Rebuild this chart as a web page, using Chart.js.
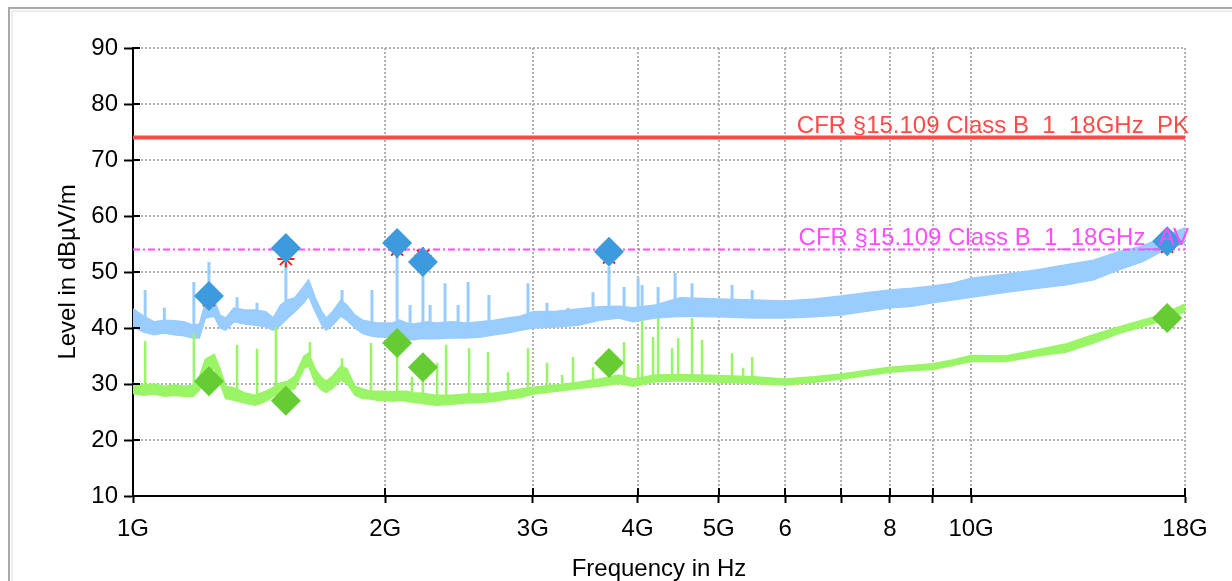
<!DOCTYPE html>
<html>
<head>
<meta charset="utf-8">
<title>Radiated emission 1-18 GHz</title>
<script src="https://cdn.jsdelivr.net/npm/chart.js@4/dist/chart.umd.min.js"></script>
<style>
  html, body { margin: 0; padding: 0; background: #fff; }
  #wrap { width: 1232px; height: 581px; }
</style>
</head>
<body>
<div id="wrap"><canvas id="emi-chart" width="1232" height="581"></canvas></div>
<script>
/* Radiated emission scan 1-18 GHz - peak / average traces with limits */

// Frequency samples (GHz) shared by the trace envelopes
const traceFreq = [1.00, 1.03, 1.06, 1.09, 1.12, 1.15, 1.18, 1.20, 1.22, 1.25,
    1.27, 1.29, 1.32, 1.36, 1.40, 1.44, 1.47, 1.50, 1.53, 1.56,
    1.60, 1.62, 1.65, 1.68, 1.70, 1.73, 1.77, 1.80, 1.84, 1.88,
    1.92, 1.96, 2.00, 2.04, 2.08, 2.12, 2.16, 2.20, 2.25, 2.30,
    2.40, 2.50, 2.60, 2.70, 2.80, 2.90, 3.0, 3.2, 3.4, 3.6,
    3.8, 3.95, 4.2, 4.5, 5.0, 5.5, 6.0, 6.5, 7.0, 7.5,
    8.0, 8.5, 9.0, 9.5, 10, 11, 12, 13, 14, 15,
    16, 17, 18];

// Peak trace (blue) upper / lower edge, dBuV/m
const pkHigh = [43.4, 42.1, 41.1, 41.4, 41.3, 41.1, 40.5, 40.7, 44.5, 45.0,
    42.3, 41.8, 43.6, 43.2, 43.2, 42.9, 41.8, 44.1, 45.0, 45.4,
    47.5, 48.6, 45.4, 42.9, 41.8, 42.9, 45.0, 44.1, 42.3, 41.4,
    41.1, 40.9, 40.9, 40.9, 41.4, 40.9, 40.7, 40.9, 41.1, 40.9,
    41.1, 40.9, 41.1, 41.4, 41.8, 42.1, 42.9, 43.0, 43.4, 43.8,
    43.9, 43.6, 44.1, 45.4, 45.2, 45.0, 44.8, 45.2, 45.7, 46.3,
    46.8, 47.1, 47.5, 48.0, 48.9, 49.6, 50.4, 51.3, 52.1, 53.6,
    54.6, 56.3, 57.9];
const pkLow = [40.2, 39.3, 38.8, 39.1, 38.8, 38.6, 38.2, 38.2, 41.8, 42.1,
    40.0, 39.6, 41.1, 40.7, 40.5, 40.2, 39.6, 40.5, 41.8, 42.9,
    44.6, 45.7, 42.9, 40.5, 39.6, 40.5, 42.1, 41.4, 40.0, 39.0,
    38.6, 38.4, 38.4, 38.4, 38.2, 37.9, 37.9, 38.1, 38.1, 38.1,
    38.2, 38.2, 38.4, 38.8, 39.1, 39.6, 40.0, 40.2, 40.5, 41.4,
    41.8, 41.1, 41.8, 42.1, 42.0, 41.8, 41.8, 42.0, 42.3, 43.0,
    43.6, 43.9, 44.5, 45.0, 45.5, 46.4, 47.1, 47.7, 48.6, 50.4,
    51.8, 53.9, 55.2];

// Average trace (green) upper / lower edge, dBuV/m
const avHigh = [30.2, 29.8, 30.0, 29.6, 29.8, 29.6, 29.8, 31.3, 34.4, 35.3,
    32.7, 29.6, 29.3, 28.4, 28.0, 28.7, 29.4, 30.2, 30.5, 31.4,
    35.0, 35.5, 32.7, 31.1, 30.5, 31.4, 33.2, 32.7, 29.6, 29.1,
    28.7, 28.7, 28.7, 28.6, 28.7, 28.7, 28.4, 28.4, 28.2, 28.0,
    28.0, 28.2, 28.2, 28.4, 28.7, 29.1, 29.4, 29.8, 30.3, 30.9,
    31.6, 30.9, 31.6, 31.7, 31.5, 31.3, 30.9, 31.3, 31.8, 32.4,
    33.0, 33.3, 33.6, 34.3, 35.1, 35.0, 36.1, 37.2, 38.8, 40.2,
    41.4, 42.5, 44.3];
const avLow = [28.3, 28.0, 28.2, 27.8, 28.0, 27.8, 27.8, 28.9, 31.9, 32.8,
    30.1, 27.4, 27.1, 26.6, 26.2, 26.9, 27.8, 28.5, 28.7, 29.2,
    32.8, 33.2, 30.1, 28.9, 28.5, 29.2, 30.7, 30.1, 28.0, 27.4,
    27.3, 27.1, 27.1, 26.9, 27.1, 26.9, 26.7, 26.6, 26.4, 26.2,
    26.4, 26.6, 26.7, 26.9, 27.3, 27.6, 28.2, 28.7, 29.2, 29.6,
    30.1, 29.6, 30.4, 30.6, 30.3, 30.1, 29.8, 30.3, 30.9, 31.5,
    32.1, 32.4, 32.6, 33.3, 34.0, 34.0, 35.0, 35.7, 37.3, 39.0,
    40.2, 41.4, 42.9];

// Narrow spurs on top of the traces (GHz, level)
const pkSpikeFreq = [1.034, 1.09, 1.182, 1.232, 1.331, 1.406, 1.522, 1.776, 1.928, 2.066,
    2.141, 2.218, 2.262, 2.357, 2.443, 2.511, 2.659, 2.96, 3.119, 3.304,
    3.539, 3.698, 3.854, 4.006, 4.05, 4.232, 4.435, 4.646, 5.186, 5.48];
const pkSpikeTop = [46.8, 43.6, 48.2, 51.8, 45.5, 44.5, 52.5, 46.8, 46.8, 53.0,
    44.1, 49.8, 44.1, 48.0, 44.1, 48.2, 45.9, 48.0, 44.5, 43.6,
    46.4, 50.9, 47.3, 48.9, 47.7, 47.3, 49.8, 48.0, 47.7, 46.8];
const avSpikeFreq = [1.034, 1.182, 1.331, 1.406, 1.481, 1.626, 1.776, 1.923, 2.066, 2.152,
    2.218, 2.306, 2.364, 2.518, 2.652, 2.802, 2.96, 3.119, 3.251, 3.35,
    3.539, 3.854, 4.006, 4.05, 4.174, 4.232, 4.398, 4.472, 4.646, 4.775,
    5.186, 5.345, 5.48];
const avSpikeTop = [37.7, 39.0, 37.0, 36.3, 40.2, 37.5, 34.6, 37.3, 37.5, 31.3,
    32.9, 33.8, 37.0, 36.4, 35.7, 32.1, 36.4, 33.8, 31.6, 34.8,
    33.0, 37.5, 33.4, 41.4, 38.4, 41.8, 36.4, 38.2, 41.8, 37.9,
    35.5, 32.9, 34.8];

// Final measurement markers
const markerFreq = [1.232, 1.522, 2.066, 2.218, 3.698, 17.14];
const pkMarker = [45.7, 54.3, 55.2, 51.8, 53.6, 55.5];
const avMarker = [30.5, 27.0, 37.3, 33.0, 33.75, 41.8];
const preScanMarker = [45.0, 52.3, 54.0, 52.9, 52.6, 54.5];

// Limits
const pkLimit = 74;
const avLimit = 54;
const pkLimitLabel = 'CFR §15.109 Class B_1_18GHz_PK';
const avLimitLabel = 'CFR §15.109 Class B_1_18GHz_AV';

// Axis ticks
const xTickValues = [1, 2, 3, 4, 5, 6, 7, 8, 9, 10, 18];
const xTickLabels = ['1G', '2G', '3G', '4G', '5G', '6', '', '8', '', '10G', '18G'];

const FONT = '"Liberation Sans", Arial, sans-serif';
const PK_COLOR = '#99ccff';
const AV_COLOR = '#99f566';
const GRID_COLOR = '#b2b2b2';

function toPoints(xs, ys) {
    return xs.map((x, i) => ({ x: x, y: ys[i] }));
}

// Vertical spur segments, each starting inside the trace band
function spikePoints(freqs, tops, lows) {
    const pts = [];
    freqs.forEach((f, k) => {
        let i = traceFreq.findIndex(v => v > f);
        if (i < 0) i = traceFreq.length - 1;
        const a = Math.max(i - 1, 0);
        const base = Math.max(lows[a], lows[i]);
        pts.push({ x: f, y: base }, { x: f, y: tops[k] }, { x: f, y: null });
    });
    return pts;
}

function limitLine(level) {
    return [{ x: xTickValues[0], y: level }, { x: xTickValues[xTickValues.length - 1], y: level }];
}

// White page plus the grey frame round the plot
const framePlugin = {
    id: 'frame',
    beforeDraw(chart) {
        const { ctx, width, height } = chart;
        ctx.save();
        ctx.fillStyle = '#fff';
        ctx.fillRect(0, 0, width, height);
        ctx.strokeStyle = '#ededed';
        ctx.lineWidth = 2;
        ctx.beginPath();
        ctx.moveTo(12, height); ctx.lineTo(12, 11); ctx.lineTo(width, 11);
        ctx.stroke();
        ctx.strokeStyle = '#a8a8a8';
        ctx.beginPath();
        ctx.moveTo(9, height); ctx.lineTo(9, 8); ctx.lineTo(width, 8);
        ctx.stroke();
        ctx.restore();
    }
};

// Dotted grid at every tick of both scales
const dottedGridPlugin = {
    id: 'dottedGrid',
    beforeDatasetsDraw(chart) {
        const { ctx, chartArea, scales } = chart;
        ctx.save();
        ctx.strokeStyle = GRID_COLOR;
        ctx.lineWidth = 2;
        ctx.setLineDash([2, 2]);
        ctx.beginPath();
        scales.y.ticks.forEach(t => {
            if (t.value === scales.y.min) return;
            const py = Math.round(scales.y.getPixelForValue(t.value));
            ctx.moveTo(chartArea.left, py);
            ctx.lineTo(chartArea.right, py);
        });
        scales.x.ticks.forEach(t => {
            if (t.value === scales.x.min) return;
            const px = Math.round(scales.x.getPixelForValue(t.value));
            ctx.moveTo(px, chartArea.top);
            ctx.lineTo(px, chartArea.bottom);
        });
        ctx.stroke();
        ctx.restore();
    }
};

// Tick marks also reach a little into the plot area
const innerTicksPlugin = {
    id: 'innerTicks',
    afterDraw(chart) {
        const { ctx, chartArea, scales } = chart;
        ctx.save();
        ctx.strokeStyle = '#000';
        ctx.lineWidth = 2;
        ctx.beginPath();
        scales.y.ticks.forEach(t => {
            const py = Math.round(scales.y.getPixelForValue(t.value));
            ctx.moveTo(chartArea.left, py);
            ctx.lineTo(chartArea.left + 7, py);
        });
        scales.x.ticks.forEach(t => {
            const px = Math.round(scales.x.getPixelForValue(t.value));
            ctx.moveTo(px, chartArea.bottom);
            ctx.lineTo(px, chartArea.bottom - 8);
        });
        ctx.stroke();
        ctx.restore();
    }
};

// Limit names written above their lines, right aligned
const limitLabelPlugin = {
    id: 'limitLabels',
    afterDatasetsDraw(chart) {
        const { ctx, chartArea, scales } = chart;
        ctx.save();
        ctx.font = '24px ' + FONT;
        ctx.textAlign = 'right';
        ctx.textBaseline = 'alphabetic';
        ctx.fillStyle = '#ff4a4a';
        ctx.fillText(pkLimitLabel, chartArea.right + 4, scales.y.getPixelForValue(pkLimit) - 5);
        ctx.fillStyle = '#ff4dff';
        ctx.fillText(avLimitLabel, chartArea.right + 4, scales.y.getPixelForValue(avLimit) - 5);
        ctx.restore();
    }
};

Chart.defaults.font.family = FONT;
Chart.defaults.font.size = 24;
Chart.defaults.color = '#000';

const ctx = document.getElementById('emi-chart');
new Chart(ctx, {
    type: 'line',
    data: {
        datasets: [
            {
                label: 'PK final',
                data: toPoints(markerFreq, pkMarker),
                showLine: false,
                pointStyle: 'rectRot',
                pointRadius: 15,
                pointBorderWidth: 0,
                pointBackgroundColor: '#3d9bdd',
                pointBorderColor: '#3d9bdd',
            },
            {
                label: 'AV final',
                data: toPoints(markerFreq, avMarker),
                showLine: false,
                pointStyle: 'rectRot',
                pointRadius: 15,
                pointBorderWidth: 0,
                pointBackgroundColor: '#66cc33',
                pointBorderColor: '#66cc33',
            },
            {
                label: 'Pre-scan',
                data: toPoints(markerFreq, preScanMarker),
                showLine: false,
                pointStyle: 'star',
                pointRadius: 8.5,
                pointBorderWidth: 2,
                pointBorderColor: '#ff1a1a',
                pointBackgroundColor: '#ff1a1a',
            },
            {
                label: 'PK limit',
                data: limitLine(pkLimit),
                borderColor: '#ff4a4a',
                borderWidth: 4,
                pointRadius: 0,
            },
            {
                label: 'AV limit',
                data: limitLine(avLimit),
                borderColor: '#ff4dff',
                borderWidth: 2,
                borderDash: [7, 3, 2, 3],
                pointRadius: 0,
            },
            {
                label: 'AV spurs',
                data: spikePoints(avSpikeFreq, avSpikeTop, avLow),
                borderColor: AV_COLOR,
                borderWidth: 2.5,
                pointRadius: 0,
                spanGaps: false,
            },
            {
                label: 'AV high',
                data: toPoints(traceFreq, avHigh),
                borderColor: AV_COLOR,
                backgroundColor: AV_COLOR,
                borderWidth: 1.5,
                pointRadius: 0,
                fill: '+1',
            },
            {
                label: 'AV low',
                data: toPoints(traceFreq, avLow),
                borderColor: AV_COLOR,
                borderWidth: 1.5,
                pointRadius: 0,
            },
            {
                label: 'PK spurs',
                data: spikePoints(pkSpikeFreq, pkSpikeTop, pkLow),
                borderColor: PK_COLOR,
                borderWidth: 3,
                pointRadius: 0,
                spanGaps: false,
            },
            {
                label: 'PK high',
                data: toPoints(traceFreq, pkHigh),
                borderColor: PK_COLOR,
                backgroundColor: PK_COLOR,
                borderWidth: 1.5,
                pointRadius: 0,
                fill: '+1',
            },
            {
                label: 'PK low',
                data: toPoints(traceFreq, pkLow),
                borderColor: PK_COLOR,
                borderWidth: 1.5,
                pointRadius: 0,
            },
        ]
    },
    options: {
        responsive: false,
        animation: false,
        layout: { padding: { top: 48, right: 47, left: 0, bottom: 0 } },
        plugins: {
            legend: { display: false },
            tooltip: { enabled: false },
        },
        scales: {
            x: {
                type: 'logarithmic',
                min: 1,
                max: 18,
                afterBuildTicks: axis => { axis.ticks = xTickValues.map(v => ({ value: v })); },
                afterFit: axis => { axis.height = 85; },
                ticks: {
                    autoSkip: false,
                    maxRotation: 0,
                    padding: 12,
                    callback: (value, index) => xTickLabels[index],
                },
                grid: {
                    drawOnChartArea: false,
                    tickLength: 7,
                    tickColor: '#000',
                    tickWidth: 2,
                },
                border: { display: true, color: '#000', width: 2 },
                title: {
                    display: true,
                    text: 'Frequency in Hz',
                    font: { lineHeight: 1 },
                    padding: { top: 0, bottom: 0 },
                },
            },
            y: {
                min: 10,
                max: 90,
                afterFit: axis => { axis.width = 133; },
                ticks: {
                    stepSize: 5,
                    padding: 6,
                    callback: v => (v % 10 === 0 ? v : ''),
                },
                grid: {
                    drawOnChartArea: false,
                    tickLength: 9,
                    tickColor: '#000',
                    tickWidth: 2,
                },
                border: { display: true, color: '#000', width: 2 },
                title: {
                    display: true,
                    text: 'Level in dBµV/m',
                    padding: { top: 54, bottom: 0 },
                },
            }
        }
    },
    plugins: [framePlugin, dottedGridPlugin, innerTicksPlugin, limitLabelPlugin]
});
</script>
</body>
</html>
